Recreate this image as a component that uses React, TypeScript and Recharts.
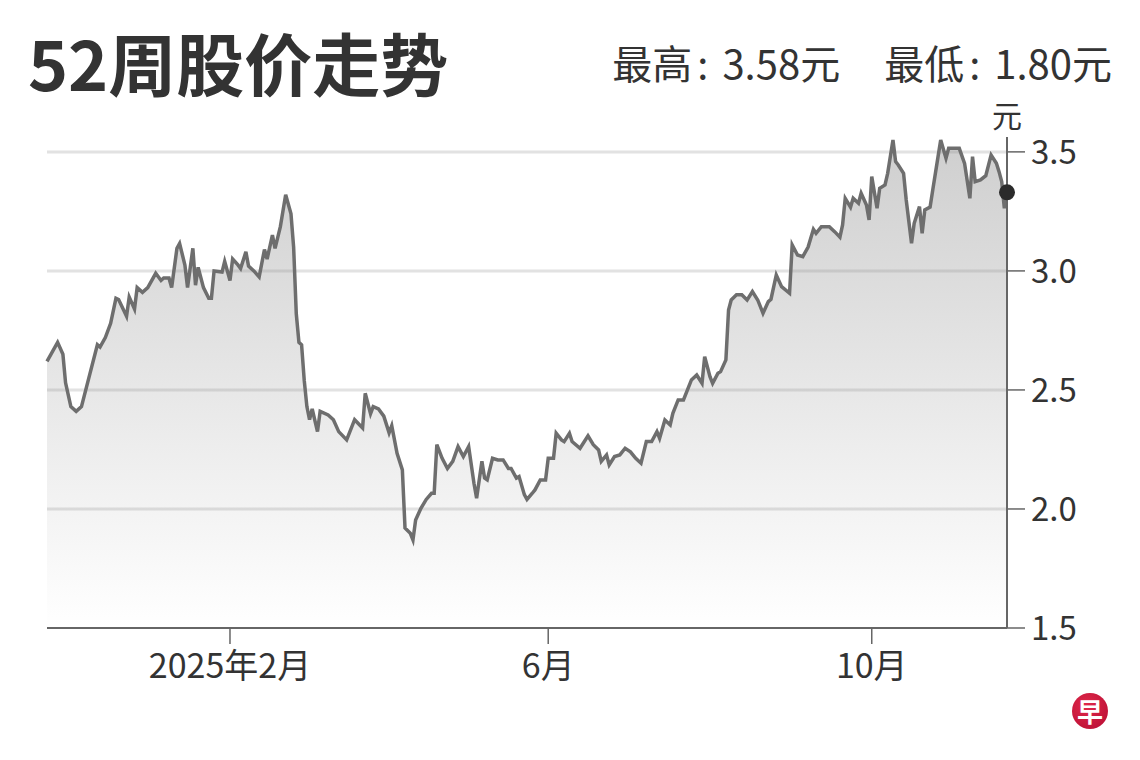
import React from 'react';
import { AreaChart, Area, XAxis, YAxis, CartesianGrid, ReferenceDot } from 'recharts';

// day 0 = 2024-11-24
const days = [
  0, 2, 4, 6, 7, 9, 11, 13, 16, 19, 20, 22, 24, 26, 27, 30, 31, 33, 34, 36, 38, 41, 43, 44, 46, 47, 49, 50,
  52, 53, 55, 56, 57, 59, 61, 62, 63, 66, 67, 69, 70, 72, 73, 75, 76, 78, 80, 82, 83, 85, 86, 88, 90, 92,
  93, 94, 95, 96, 97, 98, 99, 100, 102, 103, 106, 108, 110, 113, 116, 119, 120, 122, 123, 125, 127, 129,
  130, 132, 134, 135, 137, 138, 139, 141, 143, 145, 146, 147, 149, 151, 153, 155, 157, 159, 161, 162, 164,
  165, 166, 168, 170, 172, 174, 175, 177, 178, 180, 181, 183, 184, 186, 188, 189, 191, 192, 194, 195, 197,
  198, 201, 204, 206, 208, 209, 211, 212, 214, 216, 218, 220, 222, 224, 226, 228, 230, 231, 233, 235, 236,
  238, 240, 243, 245, 247, 248, 250, 251, 253, 254, 256, 257, 258, 260, 262, 264, 266, 268, 270, 272, 273,
  275, 277, 280, 281, 283, 285, 287, 289, 290, 292, 295, 297, 299, 300, 301, 303, 304, 306, 307, 309, 310,
  311, 313, 314, 316, 317, 319, 320, 321, 323, 324, 326, 327, 329, 330, 331, 333, 334, 336, 337, 339, 340,
  344, 346, 348, 349, 350, 352, 354, 356, 358, 359, 360, 361, 362,
];

const prices = [
  2.62, 2.66, 2.7, 2.65, 2.53, 2.43, 2.41, 2.43, 2.56, 2.69, 2.68, 2.72, 2.78, 2.885, 2.88, 2.81, 2.89, 2.84,
  2.93, 2.91, 2.93, 2.99, 2.96, 2.97, 2.97, 2.93, 3.095, 3.115, 3.025, 2.93, 3.095, 2.94, 3.015, 2.93, 2.885,
  2.885, 3.0, 2.995, 3.04, 2.96, 3.05, 3.025, 3.01, 3.08, 3.02, 3.0, 2.975, 3.09, 3.05, 3.15, 3.095, 3.186,
  3.32, 3.24, 3.1, 2.82, 2.7, 2.69, 2.54, 2.43, 2.375, 2.42, 2.325, 2.41, 2.395, 2.375, 2.325, 2.29, 2.375,
  2.34, 2.486, 2.4, 2.43, 2.42, 2.39, 2.32, 2.35, 2.234, 2.164, 1.92, 1.898, 1.87, 1.954, 2.003, 2.04, 2.066,
  2.066, 2.27, 2.213, 2.17, 2.2, 2.262, 2.22, 2.262, 2.108, 2.045, 2.2, 2.13, 2.122, 2.213, 2.206, 2.206,
  2.17, 2.17, 2.13, 2.136, 2.06, 2.04, 2.066, 2.08, 2.122, 2.122, 2.213, 2.213, 2.318, 2.29, 2.283, 2.318,
  2.283, 2.255, 2.307, 2.27, 2.248, 2.2, 2.227, 2.185, 2.22, 2.227, 2.255, 2.24, 2.213, 2.192, 2.283, 2.283,
  2.325, 2.297, 2.374, 2.353, 2.402, 2.458, 2.458, 2.542, 2.563, 2.528, 2.64, 2.556, 2.528, 2.57, 2.577,
  2.626, 2.836, 2.878, 2.9, 2.9, 2.878, 2.913, 2.878, 2.822, 2.871, 2.881, 2.983, 2.934, 2.906, 3.109, 3.067,
  3.06, 3.1, 3.175, 3.158, 3.186, 3.186, 3.165, 3.142, 3.193, 3.305, 3.268, 3.305, 3.284, 3.326, 3.277,
  3.214, 3.396, 3.263, 3.347, 3.361, 3.41, 3.55, 3.459, 3.445, 3.41, 3.298, 3.116, 3.2, 3.27, 3.158, 3.256,
  3.268, 3.34, 3.48, 3.55, 3.473, 3.515, 3.515, 3.452, 3.305, 3.48, 3.375, 3.382, 3.4, 3.487, 3.452, 3.417,
  3.375, 3.263, 3.33,
];

const tickDays = [69, 189, 311];
const tickLabels = ['2025年2月', '6月', '10月'];
const priceTicks = [1.5, 2.0, 2.5, 3.0, 3.5];

const chartData = days.map((day, i) => ({ day, price: prices[i] }));
const last = chartData[chartData.length - 1];

const font = '"Noto Sans CJK SC", "Noto Sans", sans-serif';

const colon = <span style={{ marginLeft: 5, marginRight: 14 }}>:</span>;

export default function App() {
  return (
    <div style={{ position: 'absolute', left: 0, top: 0, width: 1140, height: 760, background: '#fff', fontFamily: font, color: '#333' }}>
      <div style={{ position: 'absolute', left: 28, top: 28, fontSize: 68, fontWeight: 700, lineHeight: 1, color: '#333' }}>
        52周股价走势
      </div>
      <div style={{ position: 'absolute', right: 28, top: 42, fontSize: 40, lineHeight: 1, color: '#333', whiteSpace: 'nowrap' }}>
        最高{colon}3.58元<span style={{ marginLeft: 44 }}>最低</span>{colon}1.80元
      </div>
      <div style={{ position: 'absolute', left: 992, top: 99, width: 30, textAlign: 'center', fontSize: 30, lineHeight: 1, color: '#333' }}>
        元
      </div>

      <AreaChart
        width={1140}
        height={760}
        data={chartData}
        margin={{ top: 137, left: 47, right: 33, bottom: 72 }}
        style={{ position: 'absolute', left: 0, top: 0 }}
      >
        <defs>
          <linearGradient id="priceFill" x1="0" y1="0" x2="0" y2="1">
            <stop offset="0%" stopColor="#8c8c8c" stopOpacity={0.42} />
            <stop offset="100%" stopColor="#8c8c8c" stopOpacity={0.0} />
          </linearGradient>
        </defs>
        <CartesianGrid vertical={false} stroke="#e2e2e2" strokeWidth={3} horizontalValues={[2.0, 2.5, 3.0, 3.5]} />
        <XAxis
          dataKey="day"
          type="number"
          domain={[0, 362]}
          ticks={tickDays}
          tickFormatter={(d) => tickLabels[tickDays.indexOf(d)]}
          height={60}
          tickSize={16}
          tickMargin={10}
          axisLine={{ stroke: '#666', strokeWidth: 2 }}
          tickLine={{ stroke: '#666', strokeWidth: 1.5 }}
          tick={{ fontSize: 34, fill: '#333', fontFamily: font }}
        />
        <YAxis
          orientation="right"
          type="number"
          domain={[1.5, 3.5625]}
          ticks={priceTicks}
          tickFormatter={(v) => v.toFixed(1)}
          width={100}
          tickSize={18}
          tickMargin={6}
          axisLine={{ stroke: '#666', strokeWidth: 2 }}
          tickLine={{ stroke: '#666', strokeWidth: 1.5 }}
          tick={{ fontSize: 33, fill: '#333', fontFamily: font, textAnchor: 'start' }}
        />
        <Area
          type="linear"
          dataKey="price"
          stroke="#6e6e6e"
          strokeWidth={3.5}
          fill="url(#priceFill)"
          fillOpacity={1}
          dot={false}
          activeDot={false}
          isAnimationActive={false}
        />
        <ReferenceDot x={last.day} y={last.price} r={8} fill="#2b2b2b" stroke="none" />
      </AreaChart>

      <div
        style={{
          position: 'absolute',
          left: 1072,
          top: 693,
          width: 36,
          height: 36,
          borderRadius: '50%',
          background: 'radial-gradient(circle at 40% 35%, #e0284a, #b50c32)',
          color: '#fff',
          fontSize: 26,
          fontWeight: 700,
          lineHeight: '36px',
          textAlign: 'center',
        }}
      >
        早
      </div>
    </div>
  );
}
